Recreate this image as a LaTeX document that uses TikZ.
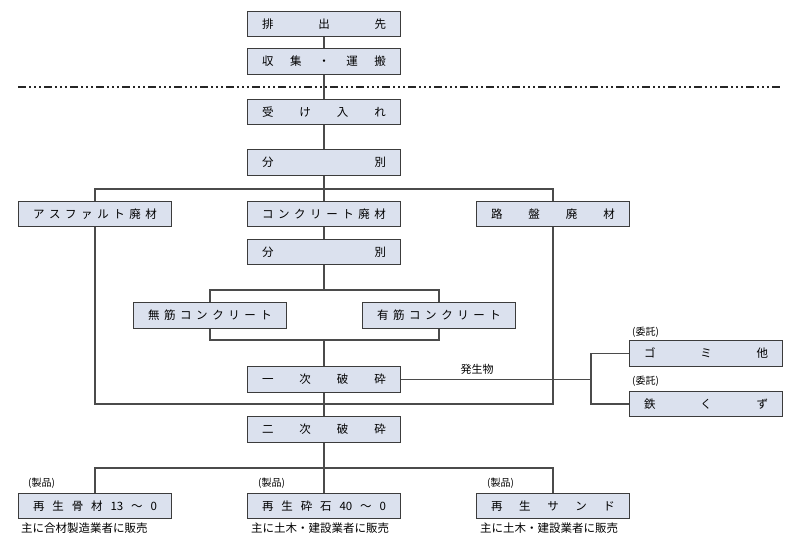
\documentclass[tikz,border=0pt]{standalone}
\usepackage{fontspec}
\setmainfont{Noto Sans CJK JP}
\definecolor{boxfill}{RGB}{219,225,238}
\definecolor{boxline}{RGB}{60,60,60}
\definecolor{wire}{RGB}{75,75,75}
\tikzset{
	flowbox/.style={draw=boxline, line width=1.3pt, fill=boxfill, minimum width=153pt, minimum height=25.5pt, inner sep=0pt, font=\fontsize{11.5}{13}\selectfont},
	wireline/.style={draw=wire, line width=1.3pt},
	notelabel/.style={inner sep=0pt, anchor=west, font=\fontsize{10}{12}\selectfont},
	salelabel/.style={inner sep=0pt, anchor=west, font=\fontsize{11.5}{13}\selectfont},
	borderline/.style={draw=black!85, line width=1.1pt, dash pattern=on 8pt off 3pt on 2pt off 3pt on 2pt off 3pt on 2pt off 3pt},
}
\newcommand{\spreadtxt}[1]{\makebox[124pt][s]{#1}}

\begin{document}
\begin{tikzpicture}[x=1pt, y=-1pt]
		\useasboundingbox (0,0) rectangle (800,550);
		% flow down the middle
		\node [flowbox] (src) at (324, 24) {\spreadtxt{排 出 先}};
		\node [flowbox] (haul) at (324, 61.5) {\spreadtxt{収 集 ・ 運 搬}};
		\node [flowbox] (accept) at (324, 112) {\spreadtxt{受 け 入 れ}};
		\node [flowbox] (sortA) at (324, 162.5) {\spreadtxt{分 別}};
		\node [flowbox] (asphalt) at (95, 214) {\spreadtxt{ア ス フ ァ ル ト 廃 材}};
		\node [flowbox] (concrete) at (324, 214) {\spreadtxt{コ ン ク リ ー ト 廃 材}};
		\node [flowbox] (roadbed) at (553, 214) {\spreadtxt{路 盤 廃 材}};
		\node [flowbox] (sortB) at (324, 252) {\spreadtxt{分 別}};
		\node [flowbox] (plain) at (210, 315.5) {\spreadtxt{無 筋 コ ン ク リ ー ト}};
		\node [flowbox] (rebar) at (439, 315.5) {\spreadtxt{有 筋 コ ン ク リ ー ト}};
		\node [flowbox] (crushA) at (324, 379.5) {\spreadtxt{一 次 破 砕}};
		\node [flowbox] (crushB) at (324, 429.5) {\spreadtxt{二 次 破 砕}};
		\node [flowbox] (trash) at (706, 353.5) {\spreadtxt{ゴ ミ 他}};
		\node [flowbox] (iron) at (706, 404) {\spreadtxt{鉄 く ず}};
		\node [flowbox] (aggr) at (95, 506) {\spreadtxt{再 生 骨 材 13 ～ 0}};
		\node [flowbox] (gravel) at (324, 506) {\spreadtxt{再 生 砕 石 40 ～ 0}};
		\node [flowbox] (sand) at (553, 506) {\spreadtxt{再 生 サ ン ド}};
		% small texts
		\node [notelabel] (trustA) at (632, 332) {(委託)};
		\node [notelabel] (trustB) at (632, 381) {(委託)};
		\node [inner sep=0pt, font=\fontsize{11}{13}\selectfont] (waste) at (477, 369) {発生物};
		\node [notelabel] (prodA) at (28, 483) {(製品)};
		\node [notelabel] (prodB) at (258, 483) {(製品)};
		\node [notelabel] (prodC) at (487, 483) {(製品)};
		\node [salelabel] (saleA) at (21, 528) {主に合材製造業者に販売};
		\node [salelabel] (saleB) at (251, 528) {主に土木・建設業者に販売};
		\node [salelabel] (saleC) at (480, 528) {主に土木・建設業者に販売};
		% joints
		\coordinate (lineL) at (18, 87);
		\coordinate (lineR) at (782, 87);
		\coordinate (forkA) at (324, 189);
		\coordinate (forkB) at (324, 290);
		\coordinate (joinB) at (324, 340);
		\coordinate (joinA) at (324, 404);
		\coordinate (forkW) at (591, 379.5);
		\coordinate (forkC) at (324, 468);
		% connectors
		\draw [borderline] (lineL) -- (lineR);
		\draw [wireline] (src) -- (haul);
		\draw [wireline] (haul) -- (accept);
		\draw [wireline] (accept) -- (sortA);
		\draw [wireline] (sortA) -- (concrete);
		\draw [wireline] (asphalt) |- (forkA) -| (roadbed);
		\draw [wireline] (concrete) -- (sortB);
		\draw [wireline] (sortB) -- (forkB);
		\draw [wireline] (plain) |- (forkB) -| (rebar);
		\draw [wireline] (plain) |- (joinB) -| (rebar);
		\draw [wireline] (joinB) -- (crushA);
		\draw [wireline] (asphalt) |- (joinA) -| (roadbed);
		\draw [wireline] (crushA) -- (crushB);
		\draw [wireline] (crushA) -- (forkW);
		\draw [wireline] (forkW) |- (trash);
		\draw [wireline] (forkW) |- (iron);
		\draw [wireline] (crushB) -- (gravel);
		\draw [wireline] (aggr) |- (forkC) -| (sand);
	\end{tikzpicture}
\end{document}
